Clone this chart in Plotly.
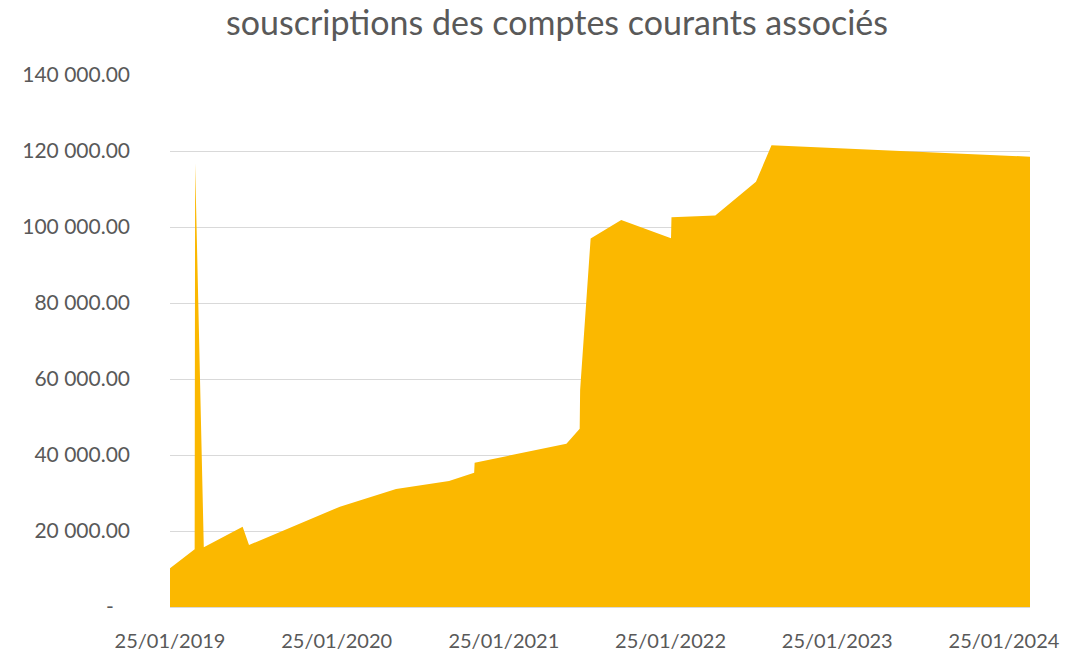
import plotly.graph_objects as go

dates = [
    "2019-01-25", "2019-03-20", "2019-03-21", "2019-04-09", "2019-07-03",
    "2019-07-17", "2020-02-01", "2020-06-03", "2020-09-27", "2020-11-21",
    "2020-11-22", "2021-06-11", "2021-07-10", "2021-07-11", "2021-08-03",
    "2021-10-09", "2022-01-26", "2022-01-27", "2022-05-03", "2022-07-31",
    "2022-09-03", "2024-03-22",
]
values = [
    10200, 15200, 116800, 15700, 21100,
    16300, 26400, 31050, 33150, 35350,
    37980, 42950, 46900, 57100, 97000,
    101840, 97020, 102550, 103000, 111930,
    121490, 118500,
]

x_tickvals = ["2019-01-25", "2020-01-25", "2021-01-25", "2022-01-25", "2023-01-25", "2024-01-25"]
x_ticktext = ["25/01/2019", "25/01/2020", "25/01/2021", "25/01/2022", "25/01/2023", "25/01/2024"]
y_tickvals = [0, 20000, 40000, 60000, 80000, 100000, 120000, 140000]
y_ticktext = ["-\u00a0\u00a0\u00a0", "20 000.00", "40 000.00", "60 000.00", "80 000.00",
              "100 000.00", "120 000.00", "140 000.00"]

TEXT = "#595959"
FONT = "Lato"

fig = go.Figure()
fig.add_trace(go.Scatter(
    x=dates, y=values, mode="lines", fill="tozeroy",
    line=dict(width=0, color="#FBB800"), fillcolor="#FBB800",
    hoverinfo="x+y", showlegend=False,
))

fig.update_layout(
    width=1083, height=651,
    margin=dict(l=170, r=53, t=75, b=44),
    paper_bgcolor="white", plot_bgcolor="white",
    font=dict(family=FONT, color=TEXT, size=20),
    title=dict(text="souscriptions des comptes courants associés",
               font=dict(family=FONT, size=34, color=TEXT),
               x=557 / 1083, xanchor="center", xref="container",
               y=1 - 23 / 651, yanchor="middle", yref="container"),
    xaxis=dict(type="date", range=["2019-01-25", "2024-03-22"],
               tickvals=x_tickvals, ticktext=x_ticktext,
               showgrid=False, showline=True, linecolor="#D9D9D9", linewidth=1,
               ticks="", ticklabelstandoff=16, automargin=False,
               tickfont=dict(family=FONT, size=20, color=TEXT), zeroline=False),
    yaxis=dict(range=[0, 140000], tickvals=y_tickvals, ticktext=y_ticktext,
               showgrid=True, gridcolor="#D9D9D9", gridwidth=1, automargin=False,
               zeroline=False, showline=False, ticks="", ticklabelstandoff=39,
               tickfont=dict(family=FONT, size=21, color=TEXT)),
)

fig.write_html("out.html")
